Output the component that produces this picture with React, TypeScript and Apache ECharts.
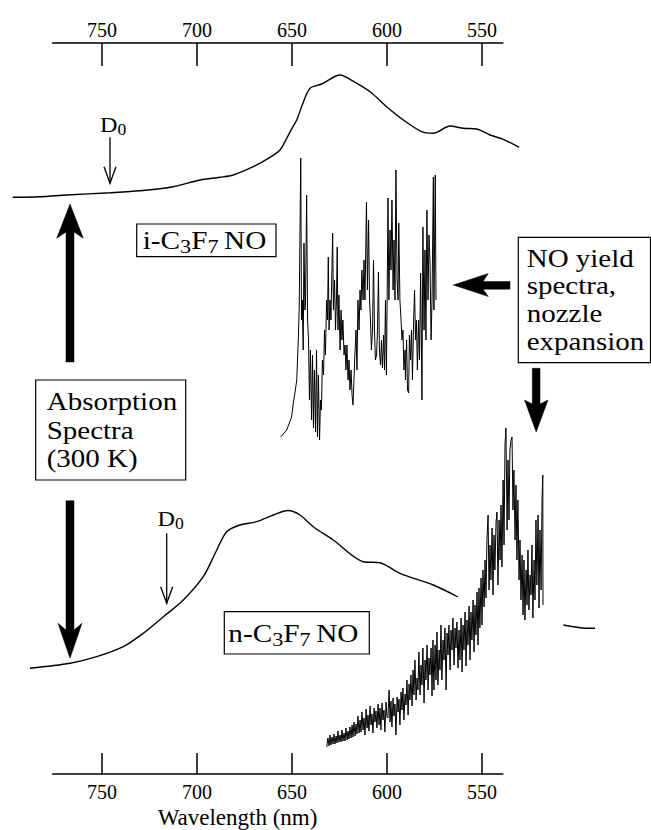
import React, { useEffect, useRef } from 'react';
import * as echarts from 'echarts';

const SERIF = 'Liberation Serif';

// Wavelength axis (nm), drawn high-to-low from left to right
const wavelengthMin = 539;
const wavelengthMax = 776;
const wavelengthTicks = [750, 700, 650, 600, 550];

// Wider wavelength window for the traces, on the same nm-per-pixel scale,
// so the spectra may run past the ends of the ruled axes
const traceMin = 465;
const traceMax = 800;

// Offset signal scale (a.u.) shared by the stacked traces
const signalMin = 0;
const signalMax = 731;

// i-C3F7NO absorption spectrum, 300 K
const iAbsNm = [797, 782.6, 768.6, 745.8, 730, 712.5, 698.4, 687.9, 680.9, 670.4, 661.6, 656.3, 652.8, 649.5, 647.5, 644.2, 640.5, 634.4, 624.7, 619.5, 608.9, 600.2, 591.4, 581.7, 575.6, 566.8, 559.8, 552.8, 545.8, 538.8, 530.4];
const iAbsSignal = [576.7, 577.3, 579, 581.3, 583.3, 587.3, 594, 596.7, 599, 607.3, 616.7, 624, 635.7, 647.3, 654, 671, 685.7, 690, 699, 694.7, 682.3, 667.3, 654, 642.3, 640.7, 648, 645.7, 645, 639, 634.7, 626.7];

// n-C3F7NO absorption spectrum, 300 K (two segments around the yield trace)
const nAbsNm = [787.9, 766.8, 752.8, 738.8, 728.3, 717.7, 707.2, 696.7, 689.6, 684.4, 677.4, 668.6, 659.8, 652.1, 645.8, 638.8, 628.3, 612.5, 603.7, 593.2, 575.6, 562.6];
const nAbsSignal = [105.7, 110.7, 117.3, 127.3, 140.7, 157.3, 174, 197.3, 224, 242.3, 249, 252.3, 259, 263.5, 259, 247.3, 234, 212.3, 211.3, 200.7, 189, 177];
const nAbsTailNm = [507.2, 498.4, 490.5];
const nAbsTailSignal = [149, 146.3, 145.7];

// NO yield spectrum of i-C3F7NO, nozzle expansion: [nm, signal]
const iYield: [number, number][] = [
  [656.0, 337], [654.2, 341], [652.8, 344], [651.6, 350], [650.2, 357], [649.3, 371], [648.4, 382], [647.5, 394], [647.1, 414], [646.7, 434],
  [646.2, 467], [645.4, 616], [645.0, 454], [644.6, 474], [644.1, 424], [643.7, 531], [643.2, 464], [642.9, 469], [642.3, 579], [641.8, 454],
  [641.3, 434], [640.8, 374], [640.3, 424], [639.7, 354], [639.2, 419], [638.7, 346], [638.2, 404], [637.6, 342], [637.1, 424], [636.6, 337],
  [636.1, 399], [635.5, 334], [635.0, 374], [634.5, 364], [634.0, 414], [633.4, 399], [632.9, 444], [632.4, 419], [631.8, 474], [631.3, 454],
  [630.9, 517], [630.5, 444], [630.0, 474], [629.5, 454], [628.6, 541], [628.2, 464], [627.6, 494], [627.1, 444], [626.6, 474], [626.2, 527],
  [625.8, 444], [625.3, 479], [624.7, 424], [624.2, 464], [623.7, 434], [623.2, 454], [622.6, 419], [622.1, 429], [621.6, 404], [621.1, 429],
  [620.5, 394], [620.0, 414], [619.5, 384], [618.9, 404], [618.4, 379], [617.9, 369], [617.4, 394], [616.8, 424], [616.3, 444], [615.8, 404],
  [615.3, 474], [614.7, 444], [614.2, 484], [613.7, 464], [613.2, 504], [612.6, 474], [612.1, 514], [611.6, 474], [610.8, 572], [610.3, 484],
  [609.7, 554], [609.2, 474], [608.7, 454], [608.2, 424], [607.6, 444], [607.1, 514], [606.6, 444], [606.1, 414], [605.5, 419], [605.0, 444],
  [604.5, 502], [604.0, 424], [603.4, 409], [602.9, 434], [602.4, 406], [601.8, 439], [601.3, 404], [600.8, 474], [600.3, 399], [599.7, 524],
  [599.5, 576], [599.0, 474], [598.4, 544], [597.9, 504], [597.4, 574], [596.8, 484], [596.3, 534], [595.8, 474], [595.3, 604], [594.7, 494],
  [594.2, 474], [593.8, 551], [593.2, 474], [592.6, 454], [592.1, 434], [591.6, 444], [591.1, 404], [590.5, 424], [590.3, 394], [589.7, 434],
  [589.2, 384], [588.6, 381], [588.2, 439], [587.6, 414], [587.1, 444], [586.6, 394], [586.1, 444], [585.5, 484], [585.0, 434], [584.5, 454],
  [584.0, 404], [583.4, 454], [582.9, 414], [582.3, 501], [581.8, 414], [581.6, 374], [581.1, 547], [580.5, 444], [580.0, 524], [579.5, 434],
  [579.0, 564], [578.4, 474], [577.9, 539], [577.4, 514], [576.8, 434], [576.3, 474], [575.6, 597], [575.3, 464], [574.6, 599], [574.2, 474],
];

// NO yield spectrum of n-C3F7NO, nozzle expansion: [nm, signal]
const nYield: [number, number][] = [
  [631.7, 27], [631.1, 36], [630.5, 28], [630.0, 39], [629.5, 29], [628.9, 37], [628.4, 30], [627.9, 40], [627.4, 30], [626.8, 38],
  [626.3, 31], [625.8, 43], [625.3, 32], [624.7, 39], [624.2, 32], [623.7, 44], [623.2, 33], [622.6, 41], [622.1, 33], [621.6, 46],
  [621.0, 34], [620.5, 43], [620.0, 35], [619.5, 47], [618.9, 36], [618.4, 49], [617.9, 37], [617.4, 52], [616.8, 38], [616.3, 50],
  [615.8, 40], [615.3, 58], [614.7, 41], [614.2, 54], [613.7, 42], [613.2, 62], [612.6, 44], [612.1, 56], [611.6, 39], [611.0, 65],
  [610.5, 46], [610.0, 59], [609.5, 43], [608.9, 68], [608.4, 49], [607.9, 60], [607.4, 41], [606.8, 66], [606.3, 52], [605.8, 63],
  [605.3, 46], [604.7, 70], [604.2, 49], [603.7, 66], [603.2, 44], [602.6, 71], [602.1, 54], [601.6, 64], [601.1, 42], [600.5, 72],
  [600.0, 57], [599.5, 56], [598.9, 84], [598.4, 52], [597.9, 73], [597.4, 47], [596.8, 76], [596.3, 58], [595.8, 70], [595.3, 39],
  [594.7, 77], [594.2, 62], [593.7, 75], [593.2, 49], [592.6, 82], [592.1, 64], [591.6, 86], [591.1, 54], [590.5, 80], [590.0, 69],
  [589.5, 94], [588.9, 59], [588.4, 90], [587.9, 74], [587.4, 99], [586.8, 68], [586.3, 104], [585.8, 79], [585.3, 114], [584.7, 74],
  [584.2, 96], [583.7, 84], [583.2, 122], [582.6, 79], [582.1, 109], [581.6, 89], [581.1, 126], [580.5, 71], [580.0, 114], [579.5, 94],
  [578.9, 129], [578.4, 84], [577.9, 116], [577.4, 99], [576.8, 126], [576.3, 78], [575.8, 134], [575.3, 84], [574.7, 129], [574.2, 94],
  [573.7, 142], [573.2, 89], [572.6, 124], [572.1, 104], [571.6, 149], [571.1, 94], [570.5, 134], [570.0, 114], [569.5, 146], [568.9, 84],
  [568.4, 141], [567.9, 119], [567.4, 149], [566.8, 104], [566.3, 144], [565.8, 124], [565.3, 156], [564.7, 109], [564.2, 146], [563.7, 126],
  [563.2, 152], [562.6, 106], [562.1, 144], [561.6, 114], [561.0, 156], [560.5, 102], [560.0, 149], [559.5, 124], [558.9, 162], [558.4, 108],
  [557.9, 154], [557.4, 129], [556.8, 168], [556.3, 114], [555.8, 162], [555.3, 134], [554.7, 174], [554.2, 122], [553.7, 169], [553.2, 139],
  [552.6, 182], [552.1, 129], [551.6, 186], [551.1, 146], [550.5, 196], [550.0, 149], [549.5, 204], [548.9, 167], [548.4, 214], [547.9, 176],
  [547.4, 234], [546.8, 259], [546.3, 184], [545.8, 229], [545.3, 194], [544.7, 246], [544.2, 179], [543.7, 239], [543.2, 204], [542.6, 252],
  [542.1, 262], [541.6, 189], [541.0, 254], [540.5, 214], [540.0, 269], [539.5, 207], [538.9, 294], [538.4, 229], [537.9, 329], [537.4, 346],
  [536.8, 244], [536.3, 314], [535.8, 254], [535.3, 324], [534.7, 334], [534.2, 337], [533.7, 264], [533.2, 304], [532.6, 234], [532.1, 289],
  [531.6, 214], [531.1, 274], [530.5, 194], [530.0, 234], [529.5, 174], [528.9, 219], [528.4, 159], [527.9, 214], [527.4, 154], [526.8, 204],
  [526.3, 169], [525.8, 224], [525.3, 164], [524.7, 199], [524.2, 179], [523.7, 229], [523.2, 156], [522.6, 214], [522.1, 174], [521.6, 254],
  [521.1, 189], [520.5, 259], [520.0, 166], [519.5, 244], [518.9, 184], [518.4, 274], [518.0, 299], [517.9, 169],
];

const zip = (xs: number[], ys: number[]) => xs.map((x, i) => [x, ys[i]]);

const INK = '#000';

const frame = (x: number, y: number, width: number, height: number) => ({
  type: 'rect',
  silent: true,
  shape: { x, y, width, height },
  style: { fill: 'none', stroke: INK, lineWidth: 1.2 },
});

const thickArrow = (points: number[][]) => ({
  type: 'polygon',
  silent: true,
  shape: { points },
  style: { fill: INK, stroke: INK, lineWidth: 0.5 },
});

const formula = (x: number, y: number, lead: string) => ({
  type: 'text',
  silent: true,
  x,
  y,
  scaleX: 1.17,
  style: {
    x: 0,
    y: 0,
    text: `{m|${lead}-C}{s|3}{m|F}{s|7 }{m|NO}`,
    align: 'left',
    verticalAlign: 'top',
    textAlign: 'left',
    textVerticalAlign: 'top',
    fontFamily: SERIF,
    fill: INK,
    rich: {
      m: { fontFamily: SERIF, fontSize: 25, lineHeight: 32, fill: INK, color: INK },
      s: { fontFamily: SERIF, fontSize: 19, lineHeight: 15, verticalAlign: 'bottom', fill: INK, color: INK },
    },
  },
});

const dZero = (x: number, y: number) => ({
  type: 'text',
  silent: true,
  x,
  y,
  scaleX: 1.1,
  style: {
    x: 0,
    y: 0,
    text: '{m|D}{s|0}',
    align: 'left',
    verticalAlign: 'top',
    textAlign: 'left',
    textVerticalAlign: 'top',
    fontFamily: SERIF,
    fill: INK,
    rich: {
      m: { fontFamily: SERIF, fontSize: 22, lineHeight: 26, fill: INK, color: INK },
      s: { fontFamily: SERIF, fontSize: 16, lineHeight: 18, verticalAlign: 'bottom', fill: INK, color: INK },
    },
  },
});

const thinArrow = (x: number, y0: number, y1: number) => [
  { type: 'line', silent: true, shape: { x1: x, y1: y0, x2: x, y2: y1 }, style: { stroke: INK, lineWidth: 1.3 } },
  { type: 'polyline', silent: true, shape: { points: [[x - 6, y1 - 16.6], [x, y1], [x + 6, y1 - 16.6]] }, style: { stroke: INK, lineWidth: 1.3, fill: 'none' } },
];

const multiline = (x: number, y: number, text: string, lineHeight: number) => ({
  type: 'text',
  silent: true,
  x,
  y,
  scaleX: 1.16,
  style: {
    x: 0,
    y: 0,
    text,
    fontFamily: SERIF,
    fontSize: 25,
    lineHeight,
    align: 'left',
    verticalAlign: 'top',
    textAlign: 'left',
    textVerticalAlign: 'top',
    fill: INK,
  },
});

const wavelengthAxis = (position: 'top' | 'bottom', tickLength: number, margin: number) => ({
  type: 'value',
  gridIndex: 1,
  position,
  inverse: true,
  min: wavelengthMin,
  max: wavelengthMax,
  axisLine: { show: true, onZero: false, lineStyle: { color: INK, width: 1.5 } },
  axisTick: { show: true, inside: true, length: tickLength, customValues: wavelengthTicks, lineStyle: { color: INK, width: 1.5 } },
  axisLabel: { show: true, customValues: wavelengthTicks, margin, fontFamily: SERIF, fontSize: 20, color: INK },
  splitLine: { show: false },
});

const traceLine = (name: string, data: number[][], width: number, smooth: number | boolean) => ({
  name,
  type: 'line',
  xAxisIndex: 0,
  yAxisIndex: 0,
  data,
  clip: false,
  smooth,
  showSymbol: false,
  symbol: 'none',
  silent: true,
  lineStyle: { color: INK, width },
  emphasis: { disabled: true },
});

export default function App() {
  const ref = useRef<HTMLDivElement>(null);

  useEffect(() => {
    if (!ref.current) return;
    const chart = echarts.init(ref.current, undefined, { renderer: 'svg' });
    chart.setOption({
      animation: false,
      backgroundColor: '#fff',
      textStyle: { fontFamily: SERIF },
      grid: [
        // traces: 800 nm at x = 7, 465 nm at x = 643.5 (1.9 px per nm)
        { left: 7, right: 7.5, top: 43, bottom: 56, containLabel: false, outerBoundsMode: 'none' },
        // ruled wavelength axes: 776 nm to 539 nm on the same scale
        { left: 52.6, right: 148.1, top: 43, bottom: 56, containLabel: false, outerBoundsMode: 'none' },
      ],
      xAxis: [
        { type: 'value', gridIndex: 0, inverse: true, min: traceMin, max: traceMax, show: false },
        wavelengthAxis('bottom', 21, 7.5),
        wavelengthAxis('top', 23, 3),
      ],
      yAxis: [
        { type: 'value', gridIndex: 0, min: signalMin, max: signalMax, show: false },
        { type: 'value', gridIndex: 1, min: signalMin, max: signalMax, show: false },
      ],
      series: [
        traceLine('i-C3F7NO absorption', zip(iAbsNm, iAbsSignal), 1.4, 0.3),
        traceLine('n-C3F7NO absorption', zip(nAbsNm, nAbsSignal), 1.4, 0.3),
        traceLine('n-C3F7NO absorption (tail)', zip(nAbsTailNm, nAbsTailSignal), 1.4, 0.3),
        traceLine('i-C3F7NO NO yield', iYield, 1, false),
        traceLine('n-C3F7NO NO yield', nYield, 1, false),
      ],
      graphic: [
        // species labels
        frame(136.7, 224, 139.3, 32.7),
        formula(142.7, 224.3, 'i'),
        frame(224.3, 611.7, 145, 42.3),
        formula(228.3, 617.3, 'n'),
        // dissociation thresholds
        dZero(100, 111.3),
        ...thinArrow(110, 137.3, 183.3),
        dZero(157.5, 505.3),
        ...thinArrow(166.7, 533.3, 603.3),
        // absorption legend with arrows
        frame(35.7, 380, 150, 100),
        multiline(46.7, 387.3, 'Absorption\nSpectra\n(300 K)', 28.6),
        thickArrow([[70, 204], [83.3, 238.3], [74, 232], [74, 362], [66, 362], [66, 232], [56.7, 238.3]]),
        thickArrow([[66, 500.7], [74, 500.7], [74, 630], [82, 623.3], [70, 658.3], [58, 623.3], [66, 630]]),
        // yield legend with arrows
        frame(518.3, 237.3, 132.2, 125.4),
        multiline(526.7, 244.4, 'NO yield\nspectra,\nnozzle\nexpansion', 27.8),
        thickArrow([[453.3, 285], [488.3, 273.5], [483, 281.5], [510, 281.5], [510, 289.2], [483, 289.2], [488.3, 296.5]]),
        thickArrow([[532.3, 368.3], [540, 368.3], [540, 404], [548, 400], [536.2, 432], [524.5, 400], [532.3, 404]]),
        // axis title
        {
          type: 'text',
          silent: true,
          x: 237.5,
          y: 817.2,
          style: {
            x: 0,
            y: 0,
            text: 'Wavelength (nm)',
            fontFamily: SERIF,
            fontSize: 23,
            align: 'center',
            verticalAlign: 'middle',
            textAlign: 'center',
            textVerticalAlign: 'middle',
            fill: INK,
          },
        },
      ],
    });
    return () => chart.dispose();
  }, []);

  return (
    <div
      ref={ref}
      style={{ position: 'fixed', left: 0, top: 0, width: 651, height: 830, background: '#fff' }}
    />
  );
}
